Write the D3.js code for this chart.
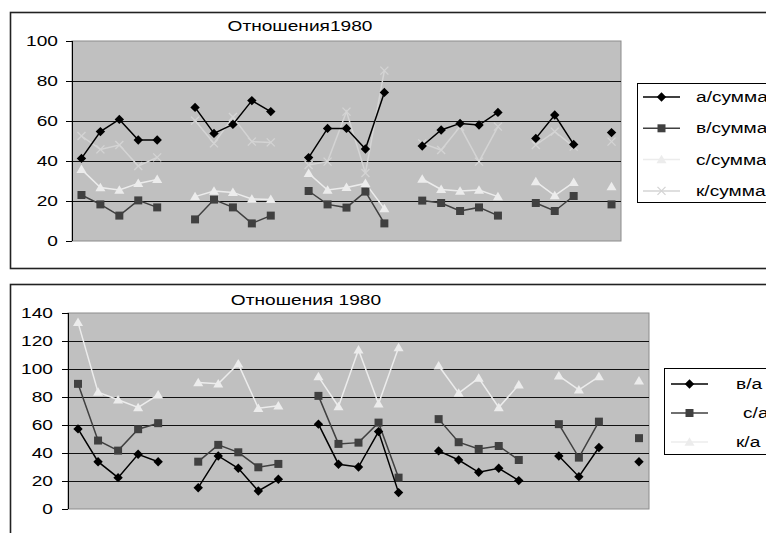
<!DOCTYPE html>
<html>
<head>
<meta charset="utf-8">
<script src="https://cdn.jsdelivr.net/npm/d3@7"></script>
<style>
  body { margin: 0; background: #fff; }
  svg { display: block; font-family: "Liberation Sans", Arial, sans-serif; }
</style>
</head>
<body>
<svg></svg>
<script>
const width = 766;
const height = 533;
const stretch = 1.32; // the original text is drawn wider than it is tall

// 29 category slots, gaps (null) between the groups
const categories = ["1","2","3","4","5","6","7","8","9","10","11","12","13","14","15",
    "16","17","18","19","20","21","22","23","24","25","26","27","28","29"];

// chart 1 - Отношения1980
const aSum = [41.3,54.7,60.8,50.5,50.5,null,66.8,53.8,58.3,70.2,64.7,null,41.7,56.3,56.3,46,74.3,null,47.5,55.5,58.8,58,64.3,null,51.3,63,48.3,null,54.2];
const vSum = [23,18.3,12.7,20.3,16.8,null,10.8,20.7,16.8,8.8,12.7,null,25,18.3,16.7,24.7,8.8,null,20.2,19,15,16.8,12.7,null,19,15,22.5,null,18.3];
const sSum = [35.8,26.7,25.5,28.8,30.8,null,22.2,25,24.3,21,20.8,null,33.8,25.5,26.8,28.8,16.2,null,31,25.8,25,25.5,22.2,null,29.7,22.7,29.3,null,27.2];
const kSum = [52.5,45.8,48,37.5,41.8,null,60.2,48.8,62,49.7,49.3,null,38,39.7,64.7,34,85.2,null,48.8,45.5,57.2,39.7,57.2,null,48,54.7,47.2,null,49.7];
const ticks1 = [0, 20, 40, 60, 80, 100];

// chart 2 - Отношения 1980
const va = [57.2,33.8,22.4,39.1,33.8,null,15.2,37.9,29.1,12.9,21.2,null,60.6,32,30,55.3,11.7,null,41.5,35,26.2,29.1,20.3,null,37.9,23.1,43.9,null,33.8];
const sa = [89.4,48.9,41.7,57,61.3,null,33.8,45.8,40.5,29.8,32.2,null,80.8,46.5,47.4,61.7,22.4,null,64.2,47.7,42.9,45,35,null,60.6,36.7,62.4,null,50.6];
const ka = [133.3,83.5,78,72.5,81.5,null,90.3,89.4,103.7,72,73.7,null,94.6,73.2,113.7,75.1,115.4,null,102.3,82.8,93.5,72.5,88.7,null,95.1,85.1,94.6,null,91.6];
const ticks2 = [0, 20, 40, 60, 80, 100, 120, 140];

const svg = d3.select('svg')
    .attr('width', width).attr('height', height);

const markers = {
    diamond: 'M0,-4.7L4.7,0L0,4.7L-4.7,0Z',
    square: 'M-4,-4H4V4H-4Z',
    triangle: 'M0,-4.8L5,3.7H-5Z',
    cross: 'M-4,-4L4,4M-4,4L4,-4'
};

const styleA = { line: '#000', fill: '#000', marker: 'diamond' };
const styleV = { line: '#404040', fill: '#404040', marker: 'square' };
const styleS = { line: '#ececec', fill: '#ececec', marker: 'triangle' };
const styleK = { line: '#d4d4d4', fill: 'none', marker: 'cross' };

drawChart({
    frame: [10, 12, 770, 268],
    plot: [72, 41, 621, 241],
    max: 100, ticks: ticks1, labelRight: 58,
    title: 'Отношения1980', titleX: 300, titleY: 31,
    series: [
        { name: 'а/сумма', values: aSum, ...styleA },
        { name: 'в/сумма', values: vSum, ...styleV },
        { name: 'с/сумма', values: sSum, ...styleS },
        { name: 'к/сумма', values: kSum, ...styleK }
    ],
    legend: { x: 637, y: 83, h: 119, textX: 696, first: 97, step: 31.3, lx: [643, 680] },
    drawOrder: [3, 2, 1, 0]
});

drawChart({
    frame: [10, 284, 770, 540],
    plot: [68, 313, 649, 509],
    max: 140, ticks: ticks2, labelRight: 53,
    title: 'Отношения 1980', titleX: 306, titleY: 305,
    series: [
        { name: 'в/а', values: va, ...styleA },
        { name: 'с/а', values: sa, ...styleV, dx: 7 },
        { name: 'к/а', values: ka, ...styleS }
    ],
    legend: { x: 664, y: 368, h: 86, textX: 736, first: 384, step: 29, lx: [671, 708] },
    drawOrder: [2, 1, 0]
});

function stretchedText(parent, x, y, anchor, str) {
    return parent.append('text')
        .attr('transform', `translate(${x},${y}) scale(${stretch},1)`)
        .attr('text-anchor', anchor)
        .style('font-size', '14.5px')
        .style('fill', '#000')
        .text(str);
}

function drawChart(cfg) {
    const [fx0, fy0, fx1, fy1] = cfg.frame;
    const [px0, py0, px1, py1] = cfg.plot;
    const g = svg.append('g');

    g.append('rect')
        .attr('x', fx0 + 0.5).attr('y', fy0 + 0.5)
        .attr('width', fx1 - fx0).attr('height', fy1 - fy0)
        .style('fill', '#fff')
        .style('stroke', '#222')
        .style('stroke-width', 1.6);

    const x = d3.scaleBand().domain(categories).range([px0, px1]);
    const y = d3.scaleLinear().domain([0, cfg.max]).range([py1, py0]);

    g.append('rect')
        .attr('x', px0).attr('y', py0)
        .attr('width', px1 - px0).attr('height', py1 - py0)
        .style('fill', '#c0c0c0')
        .style('stroke', '#8c8c8c');

    g.selectAll('.grid')
        .data(cfg.ticks.filter(t => t > 0 && t < cfg.max))
        .enter().append('line')
        .attr('x1', px0).attr('x2', px1)
        .attr('y1', d => Math.round(y(d)) + 0.5).attr('y2', d => Math.round(y(d)) + 0.5)
        .style('stroke', '#111');

    const axis = g.append('g')
        .attr('transform', `translate(${px0},0)`)
        .call(d3.axisLeft(y).tickValues(cfg.ticks).tickSize(6).tickPadding(4));
    axis.select('.domain').remove();
    axis.selectAll('line').style('stroke', '#000');
    axis.selectAll('text')
        .attr('x', null)
        .attr('transform', `translate(${cfg.labelRight - px0},0) scale(${stretch},1)`)
        .style('font-size', '14.5px')
        .style('font-family', '"Liberation Sans", Arial, sans-serif')
        .style('fill', '#000');
    g.append('line')
        .attr('x1', px0 + 0.5).attr('x2', px0 + 0.5)
        .attr('y1', py0).attr('y2', py1)
        .style('stroke', '#000');

    stretchedText(g, cfg.titleX, cfg.titleY, 'middle', cfg.title);

    const line = d3.line()
        .defined(d => d != null)
        .x((d, i) => x(categories[i]) + x.bandwidth() / 2)
        .y(d => y(d));

    cfg.drawOrder.forEach(k => {
        const s = cfg.series[k];
        g.append('path')
            .datum(s.values)
            .attr('d', line)
            .style('fill', 'none')
            .style('stroke', s.line)
            .style('stroke-width', 1.5);
        g.selectAll(null)
            .data(s.values.map((v, i) => ({ v, i })).filter(d => d.v != null))
            .enter().append('path')
            .attr('transform', d => `translate(${x(categories[d.i]) + x.bandwidth() / 2},${y(d.v)})`)
            .attr('d', markers[s.marker])
            .style('fill', s.fill)
            .style('stroke', s.marker === 'cross' ? s.line : 'none')
            .style('stroke-width', 1.3);
    });

    // legend
    const lg = cfg.legend;
    g.append('rect')
        .attr('x', lg.x + 0.5).attr('y', lg.y + 0.5)
        .attr('width', 200).attr('height', lg.h)
        .style('fill', '#fff')
        .style('stroke', '#000');
    cfg.series.forEach((s, i) => {
        const ly = lg.first + i * lg.step;
        g.append('line')
            .attr('x1', lg.lx[0]).attr('x2', lg.lx[1])
            .attr('y1', ly).attr('y2', ly)
            .style('stroke', s.line)
            .style('stroke-width', 1.5);
        g.append('path')
            .attr('transform', `translate(${(lg.lx[0] + lg.lx[1]) / 2},${ly})`)
            .attr('d', markers[s.marker])
            .style('fill', s.fill)
            .style('stroke', s.marker === 'cross' ? s.line : 'none')
            .style('stroke-width', 1.3);
        stretchedText(g, lg.textX + (s.dx || 0), ly + 5, 'start', s.name);
    });
}
</script>
</body>
</html>
